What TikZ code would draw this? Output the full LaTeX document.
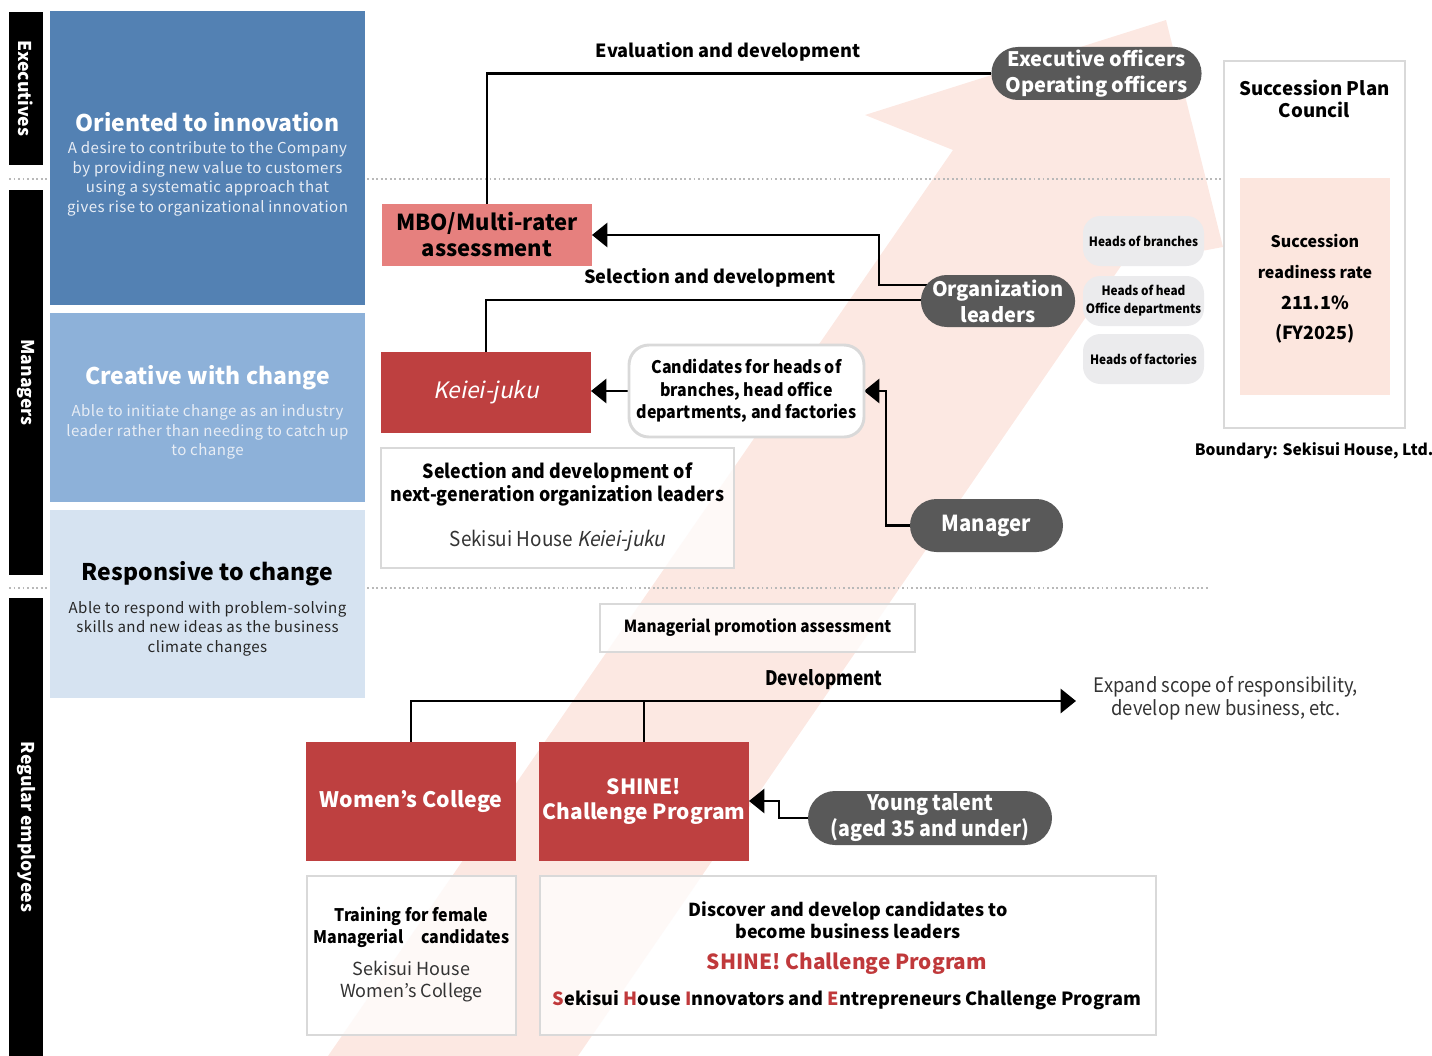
\documentclass[tikz,border=0pt]{standalone}
\usepackage{fontspec}
\setmainfont{Noto Sans CJK JP}[ItalicFont=Noto Sans CJK JP, ItalicFeatures={FakeSlant=0.2}]
\newfontfamily\cond{Noto Sans CJK JP}[FakeStretch=0.86, ItalicFont=Noto Sans CJK JP, ItalicFeatures={FakeSlant=0.2,FakeStretch=0.86}]
\newfontfamily\semicond{Noto Sans CJK JP}[FakeStretch=0.92, ItalicFont=Noto Sans CJK JP, ItalicFeatures={FakeSlant=0.2,FakeStretch=0.92}]
\newcommand{\medfont}{\normalfont\bfseries}
\newcommand{\medcond}{\semicond\bfseries}
\newfontfamily\spaced{Noto Sans CJK JP}[LetterSpace=3]
\usetikzlibrary{arrows.meta,shapes.misc,calc}
\newcommand{\myfs}[2]{\fontsize{#1}{#2}\selectfont}
\definecolor{blueA}{HTML}{5381B3}
\definecolor{blueB}{HTML}{8DB1D9}
\definecolor{blueC}{HTML}{D6E3F1}
\definecolor{mbopink}{HTML}{E6807E}
\definecolor{boxred}{HTML}{BE4040}
\definecolor{pillgray}{HTML}{595959}
\definecolor{lightpill}{HTML}{EBEBED}
\definecolor{bordergray}{HTML}{D9D9D9}
\definecolor{arrowpink}{HTML}{FCE8E2}
\definecolor{innerpink}{HTML}{FCE6DE}
\definecolor{redtxt}{HTML}{C0393B}
\definecolor{bodyw}{HTML}{E8EDF5}
\definecolor{txtgray}{HTML}{333333}
\pgfdeclarelayer{bg}
\pgfdeclarelayer{mid}
\pgfsetlayers{bg,mid,main}
\tikzset{
  sz/.style 2 args={minimum width=#1*0.75pt, minimum height=#2*0.75pt, inner sep=0pt, outer sep=0pt},
  sidebar/.style={fill=black, text=white, font=\medfont\myfs{13.2}{16}, rotate=-90},
  solidbox/.style={fill=#1, draw=none, align=center},
  framebox/.style={draw=bordergray, line width=2.2pt, fill=white, fill opacity=0.75, text opacity=1, align=center},
  darkpill/.style={rounded rectangle, fill=pillgray, text=white, align=center},
  lightpillbox/.style={rectangle, rounded corners=13pt, fill=lightpill, align=center},
  conn/.style={line width=2.2pt, black},
  tri/.style={-{Triangle[length=11.5pt,width=18pt]}},
  lbl/.style={font=\bfseries\myfs{13.6}{17}, align=center},
}
\begin{document}
\begin{tikzpicture}[x=0.75pt,y=-0.75pt]
\useasboundingbox (0,0) rectangle (1432,1056);

% ---------- background arrow and separators ----------
\begin{pgfonlayer}{bg}
  \fill[arrowpink] (328,1056) -- (953,150) -- (865,115) -- (1166,20) -- (1223,247) -- (1121,266) -- (578,1056) -- cycle;
  \coordinate (sepAa) at (9,179);
  \coordinate (sepAb) at (1222,179);
  \coordinate (sepBa) at (9,588);
  \coordinate (sepBb) at (1210,588);
  \draw[gray!55, line width=1.4pt, dotted] (sepAa) -- (sepAb);
  \draw[gray!55, line width=1.4pt, dotted] (sepBa) -- (sepBb);
\end{pgfonlayer}

% ---------- side bars ----------
\node[sidebar, sz={153}{34}] (exe) at (26,88.5) {Executives};
\node[sidebar, sz={385}{34}] (mgrbar) at (26,382.5) {Managers};
\node[sidebar, sz={458}{34}] (reg) at (26,827) {Regular employees};

% ---------- blue value boxes ----------
\node[solidbox=blueA, sz={315}{294}] (b1) at (207.5,158) {};
\node[text=white, font=\bfseries\myfs{17.2}{21}] (b1t) at (207.5,122) {Oriented to innovation};
\node[text=bodyw, align=center, font=\spaced\myfs{11.3}{14.6}] (b1d) at (207.5,179) {A desire to contribute to the Company\\by providing new value to customers\\using a systematic approach that\\gives rise to organizational innovation};

\node[solidbox=blueB, sz={315}{189}] (b2) at (207.5,407.5) {};
\node[text=white, font=\bfseries\myfs{17.2}{21}] (b2t) at (207.5,378) {Creative with change};
\node[text=bodyw, align=center, font=\spaced\myfs{11.3}{14.4}] (b2d) at (207.5,432) {Able to initiate change as an industry\\leader rather than needing to catch up\\to change};

\node[solidbox=blueC, sz={315}{188}] (b3) at (207.5,604) {};
\node[text=black, font=\bfseries\myfs{17.2}{21}] (b3t) at (207.5,574) {Responsive to change};
\node[text=black!85, align=center, font=\spaced\myfs{11.3}{14.6}] (b3d) at (207.5,628.5) {Able to respond with problem-solving\\skills and new ideas as the business\\climate changes};

% ---------- programmes (managers) ----------
\node[solidbox=mbopink, sz={210}{62}, font=\bfseries\myfs{16.5}{19.5}] (mbo) at (487,235) {MBO/Multi-rater\\assessment};
\node[solidbox=boxred, sz={210}{81}, text=white, font=\itshape\myfs{17}{20}] (keiei) at (486,392.5) {Keiei-juku};
\node[framebox, sz={353}{120}] (selbox) at (557.5,508) {};
\node[font=\semicond\bfseries\myfs{14.5}{17.3}, align=center] (selt) at (557.5,484.5) {Selection and development of\\next-generation organization leaders};
\node[font=\semicond\myfs{15.4}{17}, text=txtgray] (selk) at (557.5,541) {Sekisui House \textit{Keiei-juku}};

\node[rectangle, rounded corners=15pt, draw=bordergray, line width=2.2pt, fill=white, sz={235}{92}, align=center, font=\semicond\bfseries\myfs{13}{17}] (cand) at (746.5,391) {Candidates for heads of\\branches, head office\\departments, and factories};

% ---------- people pills ----------
\node[darkpill, sz={209}{53}, font=\medfont\myfs{15}{19}] (exec) at (1096.5,73.5) {Executive officers\\Operating officers};
\node[darkpill, sz={154}{52}, font=\medfont\myfs{15}{19.5}] (org) at (998,301) {Organization\\leaders};
\node[darkpill, sz={153}{53}, font=\medcond\myfs{16.5}{20}] (mgr) at (986.5,525.5) {Manager};

\node[lightpillbox, sz={121}{50}, font=\medcond\myfs{9.6}{13}] (hb) at (1143.5,241) {Heads of branches};
\node[lightpillbox, sz={121}{50}, font=\medcond\myfs{9.6}{13.5}] (hh) at (1143.5,301) {Heads of head\\Office departments};
\node[lightpillbox, sz={121}{50}, font=\medcond\myfs{9.6}{13}] (hf) at (1143.5,359) {Heads of factories};

% ---------- succession plan council ----------
\node[draw=bordergray, line width=2.2pt, fill=white, sz={181}{367}] (council) at (1314.5,244.5) {};
\node[font=\bfseries\myfs{14}{16.5}, align=center] (councilt) at (1314.5,99) {Succession Plan\\Council};
\node[fill=innerpink, sz={150}{217}] (ready) at (1315,286.5) {};
\node[font=\bfseries\myfs{12}{23}, align=center] (readyt) at (1315,289) {Succession\\readiness rate\\{\myfs{13.5}{23}211.1\%}\\{\myfs{13.5}{25}(FY2025)}};
\node[font=\bfseries\myfs{11.7}{14}] (boundary) at (1314,451) {Boundary: Sekisui House, Ltd.};

% ---------- regular employees ----------
\node[framebox, sz={315}{48}, font=\semicond\bfseries\myfs{12.5}{15}] (promo) at (757.5,628) {Managerial promotion assessment};
\node[solidbox=boxred, sz={210}{119}, text=white, font=\bfseries\myfs{16}{19}] (wc) at (411,801.5) {Women’s College};
\node[solidbox=boxred, sz={210}{119}, text=white, font=\bfseries\myfs{15.7}{19}] (shine) at (644,801.5) {SHINE!\\Challenge Program};
\node[darkpill, sz={244}{54}, font=\medcond\myfs{16}{19.5}] (young) at (930,818) {Young talent\\(aged 35 and under)};

\node[framebox, sz={209}{159}] (wdesc) at (411.5,955.5) {};
\node[font=\semicond\bfseries\myfs{13}{17}, align=center] (wdesct) at (411.5,927.5) {Training for female\\Managerial\hspace{1em}candidates};
\node[font=\myfs{13.5}{16.5}, text=txtgray, align=center] (wdescs) at (411.5,982) {Sekisui House\\Women’s College};

\node[framebox, sz={616}{159}] (sdesc) at (848,955.5) {};
\node[font=\bfseries\myfs{13.4}{16.5}, align=center] (sdesct) at (848,920) {Discover and develop candidates to\\become business leaders};
\node[font=\medfont\myfs{15.6}{19}, text=redtxt] (sdescr) at (847,964) {SHINE! Challenge Program};
\node[font=\bfseries\myfs{13.6}{16}] (sdescf) at (847,1000) {{\color{redtxt}S}ekisui {\color{redtxt}H}ouse {\color{redtxt}I}nnovators and {\color{redtxt}E}ntrepreneurs Challenge Program};

\node[font=\semicond\myfs{15}{16.8}, text=txtgray, align=center] (expand) at (1226,698) {Expand scope of responsibility,\\develop new business, etc.};

% ---------- connector labels ----------
\node[lbl] (lev) at (728,52) {Evaluation and development};
\node[lbl] (lsel) at (710,278) {Selection and development};
\node[lbl, font=\cond\bfseries\myfs{15}{17}] (ldev) at (824,680) {Development};

% ---------- connectors ----------
\coordinate (j1) at (879,235);
\coordinate (j2) at (886,391);
\coordinate (j3) at (779,801);
\coordinate (devend) at (1076,701);
\begin{pgfonlayer}{mid}
  \draw[conn] (exec.west) -| (mbo.north);
  \draw[conn, tri] ($(org.west)+(8,-16)$) -| (j1) -- (mbo.east);
  \draw[conn] ($(org.west)+(8,-1)$) -| (keiei.north);
  \draw[conn, tri] (cand.west) -- (cand.west -| keiei.east);
  \draw[conn, tri] ($(mgr.west)+(4,0)$) -| (j2) -- (cand.east);
  \draw[conn, tri] (wc.north) |- (devend);
  \draw[conn] (shine.north) -- (shine.north |- devend);
  \draw[conn, tri] ($(young.west)+(4,0)$) -| (j3) -- (j3 -| shine.east);
\end{pgfonlayer}
\end{tikzpicture}
\end{document}
